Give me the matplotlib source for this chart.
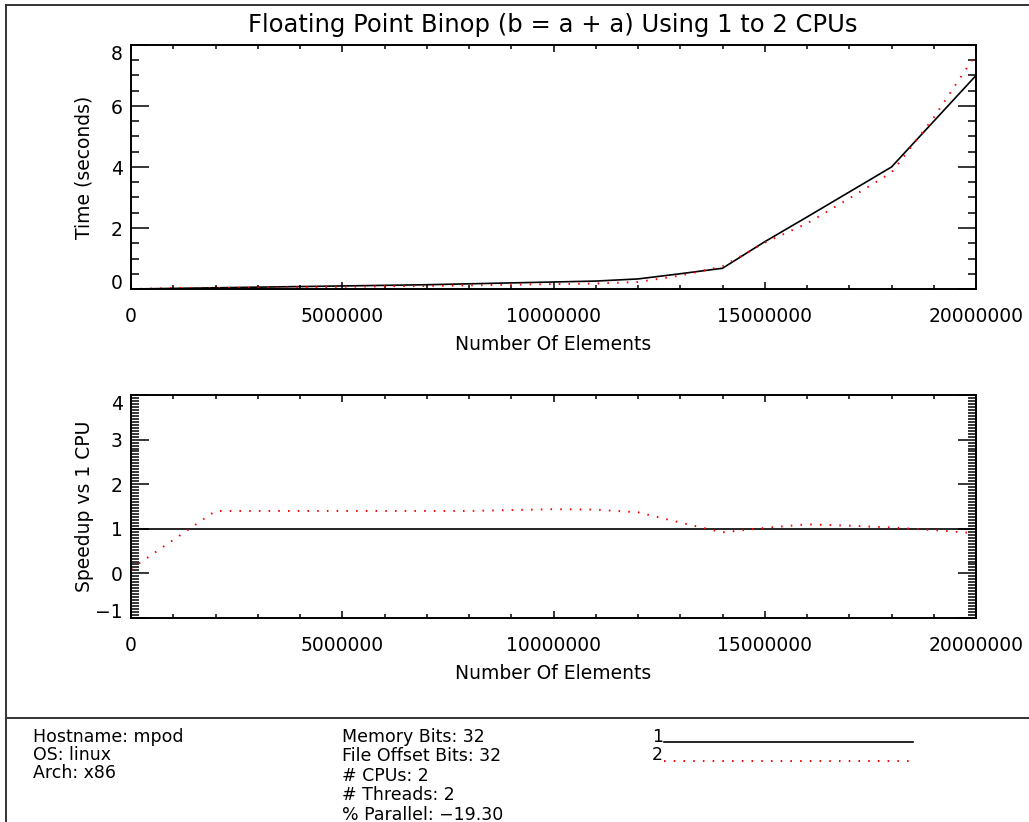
import numpy as np
import matplotlib.pyplot as plt
from matplotlib.lines import Line2D
from matplotlib.ticker import MultipleLocator, FormatStrFormatter, FuncFormatter

# benchmark results: array size vs. run time for 1 and 2 CPUs
n_elements = [0, 1000000, 2000000, 3000000, 4000000, 5000000, 6000000,
              7000000, 8000000, 9000000, 10000000, 11000000, 12000000,
              13000000, 14000000, 15000000, 16000000, 17000000, 18000000,
              19000000, 20000000]
time_1cpu = [0.00, 0.02, 0.04, 0.06, 0.08, 0.10, 0.12, 0.14, 0.17, 0.20,
             0.23, 0.26, 0.33, 0.50, 0.68, 1.55, 2.36, 3.18, 4.00, 5.50, 7.00]
time_2cpu = [0.00, 0.03, 0.03, 0.04, 0.06, 0.07, 0.09, 0.10, 0.12, 0.14,
             0.16, 0.18, 0.23, 0.44, 0.74, 1.52, 2.15, 2.97, 3.82, 5.62, 7.70]
speedup_1cpu = [1.0] * 21
speedup_2cpu = [0.10, 0.75, 1.40, 1.40, 1.40, 1.40, 1.40, 1.40, 1.40, 1.42,
                1.44, 1.43, 1.37, 1.14, 0.92, 1.02, 1.10, 1.07, 1.03, 0.97, 0.90]

time_ticks = [0, 2, 4, 6, 8]
speedup_ticks = [-1, 0, 1, 2, 3, 4]
info_left = ["Hostname: mpod", "OS: linux", "Arch: x86"]
info_mid = ["Memory Bits: 32", "File Offset Bits: 32", "# CPUs: 2",
            "# Threads: 2", "% Parallel: \u221219.30"]
series_names = ["1", "2"]

W, H = 1029, 822
RED_DOTS = (0, (0.8, 4.2))


def fx(px):
    return px / W


def fy(py):
    return 1 - py / H


def int_label(v, pos):
    return f"{v:.0f}".replace('-', '\u2212')


def style_axes(ax, yticks, yminor, ylabel, ylabel_right):
    ax.xaxis.set_major_locator(MultipleLocator(5000000))
    ax.xaxis.set_minor_locator(MultipleLocator(1000000))
    ax.xaxis.set_major_formatter(FormatStrFormatter('%d'))
    ax.set_yticks(yticks)
    ax.yaxis.set_minor_locator(MultipleLocator(yminor))
    ax.yaxis.set_major_formatter(FuncFormatter(int_label))
    ax.tick_params(axis='x', which='both', direction='in', top=True,
                   labelsize=13.5, pad=13, width=1.1)
    ax.tick_params(axis='x', which='major', length=5)
    ax.tick_params(axis='x', which='minor', length=2.8)
    ax.tick_params(axis='y', which='both', direction='in', right=True,
                   labelsize=13.5, pad=6, width=1.1)
    ax.tick_params(axis='y', which='major', length=13)
    ax.tick_params(axis='y', which='minor', length=6)
    for sp in ax.spines.values():
        sp.set_linewidth(1.4)
    ax.set_xlabel("Number Of Elements", fontsize=13.5, va='top')
    ax.set_ylabel(ylabel, fontsize=13.5)
    ax.yaxis.set_label_coords(ylabel_right, 0.5)
    # keep the end labels inside the axis range
    ticks = ax.yaxis.get_major_ticks()
    ticks[0].label1.set_va('baseline')
    ticks[-1].label1.set_va('top')


fig = plt.figure(figsize=(W / 100, H / 100), dpi=100)

# run times
ax1 = fig.add_axes([fx(131), fy(289), fx(976) - fx(131), fy(45) - fy(289)])
ax1.plot(n_elements, time_1cpu, color='black', lw=1.2)
ax1.plot(n_elements, time_2cpu, color='red', lw=1.4, ls=RED_DOTS)
ax1.set_xlim(0, 20000000)
ax1.set_ylim(0, 8)
style_axes(ax1, time_ticks, 0.5, "Time (seconds)", -0.044)
ax1.xaxis.set_label_coords(0.5, -0.19)

# speedup relative to one CPU
ax2 = fig.add_axes([fx(131), fy(618), fx(976) - fx(131), fy(395) - fy(618)])
ax2.plot(n_elements, speedup_1cpu, color='black', lw=1.2)
ax2.plot(n_elements, speedup_2cpu, color='red', lw=1.4, ls=RED_DOTS)
ax2.set_xlim(0, 20000000)
ax2.set_ylim(-1, 4)
style_axes(ax2, speedup_ticks, 1 / 15, "Speedup vs 1 CPU", -0.044)
ax2.xaxis.set_label_coords(0.5, -0.205)

fig.text(fx(553), fy(32), "Floating Point Binop (b = a + a) Using 1 to 2 CPUs",
         ha='center', va='baseline', fontsize=17.5)

# frame and separator
frame_kw = dict(color='#333333', lw=1.4, transform=fig.transFigure)
fig.add_artist(Line2D([fx(6), 1], [fy(5), fy(5)], **frame_kw))
fig.add_artist(Line2D([fx(6), fx(6)], [fy(5), 0], **frame_kw))
fig.add_artist(Line2D([fx(6), 1], [fy(718), fy(718)], **frame_kw))

# system info block
fig.text(fx(33), fy(728), "\n".join(info_left), fontsize=12.5, va='top',
         linespacing=1.0)
fig.text(fx(342), fy(728), "\n".join(info_mid), fontsize=12.5, va='top',
         linespacing=1.1)

# legend
fig.text(fx(652), fy(728), "\n".join(series_names), fontsize=12.5, va='top',
         linespacing=1.0)
fig.add_artist(Line2D([fx(664), fx(913)], [fy(742), fy(742)], color='black',
                      lw=1.2, transform=fig.transFigure))
fig.add_artist(Line2D([fx(664), fx(913)], [fy(761), fy(761)], color='red',
                      lw=1.4, ls=RED_DOTS, transform=fig.transFigure))

fig.savefig("out.png", dpi=100)
